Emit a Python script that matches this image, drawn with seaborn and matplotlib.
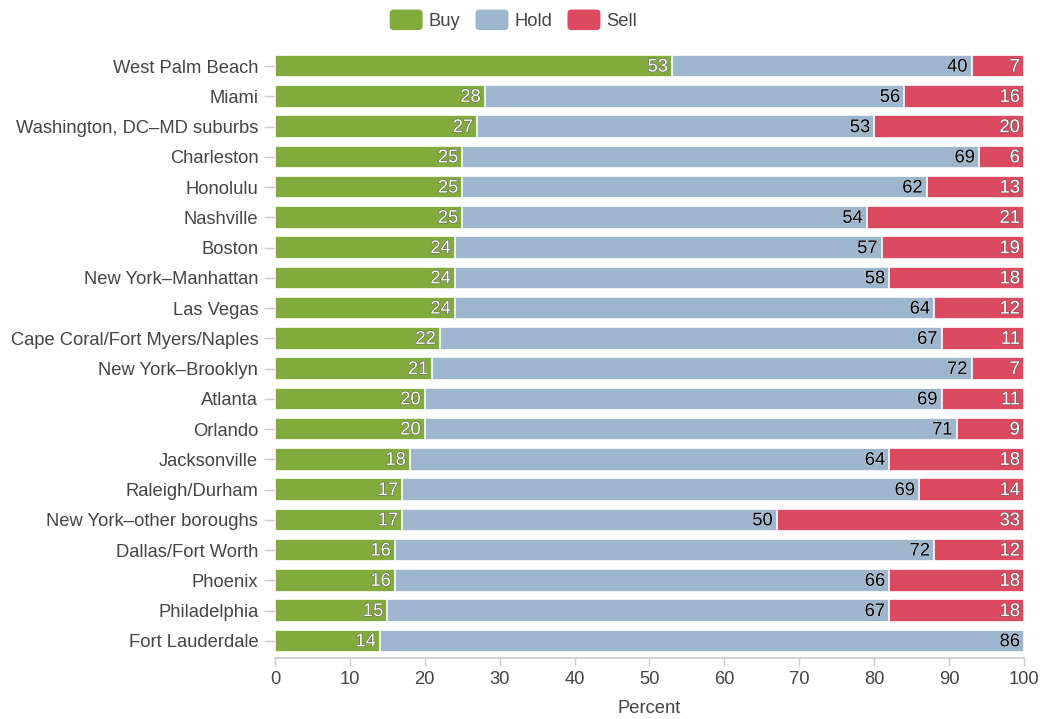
import matplotlib
matplotlib.use("Agg")
import matplotlib.pyplot as plt
import matplotlib.patheffects as pe
from matplotlib.patches import FancyBboxPatch
from matplotlib.legend_handler import HandlerPatch
import seaborn as sns
import pandas as pd
import numpy as np

cities = ["West Palm Beach", "Miami", "Washington, DC\u2013MD suburbs", "Charleston", "Honolulu",
          "Nashville", "Boston", "New York\u2013Manhattan", "Las Vegas", "Cape Coral/Fort Myers/Naples",
          "New York\u2013Brooklyn", "Atlanta", "Orlando", "Jacksonville", "Raleigh/Durham",
          "New York\u2013other boroughs", "Dallas/Fort Worth", "Phoenix", "Philadelphia", "Fort Lauderdale"]
buy = [53, 28, 27, 25, 25, 25, 24, 24, 24, 22, 21, 20, 20, 18, 17, 17, 16, 16, 15, 14]
hold = [40, 56, 53, 69, 62, 54, 57, 58, 64, 67, 72, 69, 71, 64, 69, 50, 72, 66, 67, 86]
sell = [7, 16, 20, 6, 13, 21, 19, 18, 12, 11, 7, 11, 9, 18, 14, 33, 12, 18, 18, 0]
series = ["Buy", "Hold", "Sell"]
colors = {"Buy": "#82aa3d", "Hold": "#9db6ce", "Sell": "#dc4a62"}

sns.set_theme(style="white")
plt.rcParams["font.family"] = ["Liberation Sans", "DejaVu Sans"]

df = pd.DataFrame({"city": cities, "Buy": buy, "Hold": hold, "Sell": sell})
df["cum_buy"] = df["Buy"]
df["cum_hold"] = df["Buy"] + df["Hold"]
df["cum_sell"] = df["Buy"] + df["Hold"] + df["Sell"]

fig = plt.figure(figsize=(10.4, 7.19), dpi=100)
ax = fig.add_axes([0.2644, 0.0876, 0.7202, 0.8414])

for col, name in [("cum_sell", "Sell"), ("cum_hold", "Hold"), ("cum_buy", "Buy")]:
    sns.barplot(data=df, y="city", x=col, color=colors[name], saturation=1, width=0.74,
                edgecolor="white", linewidth=1.2, ax=ax, orient="h")

txtcol = "#444444"
fs = 13.2
for i in range(len(cities)):
    segs = [("Buy", df["cum_buy"][i], buy[i]), ("Hold", df["cum_hold"][i], hold[i]),
            ("Sell", df["cum_sell"][i], sell[i])]
    for name, end, val in segs:
        if val <= 0:
            continue
        if name == "Hold":
            fc, ec = "black", "#d6e0ea"
        else:
            fc, ec = "white", "#555555"
        ax.text(end - 0.55, i + 0.03, f"{val}", ha="right", va="center", fontsize=fs,
                color=fc, path_effects=[pe.withStroke(linewidth=0.7, foreground=ec)], zorder=5)

ax.set_xlim(0, 100)
ax.set_ylim(19.5, -0.5)
ax.set_xticks(range(0, 101, 10))
ax.set_ylabel("")
ax.set_xlabel("Percent", fontsize=fs, color=txtcol, labelpad=9)
ax.tick_params(axis="x", colors="#cccccc", labelcolor=txtcol, labelsize=fs, length=6, width=1, direction="out", bottom=True)
ax.tick_params(axis="y", colors="#cccccc", labelcolor=txtcol, labelsize=fs, length=8, width=1, left=True, pad=4)
for s in ["top", "right", "left"]:
    ax.spines[s].set_visible(False)
ax.spines["bottom"].set_color("#cccccc")
ax.spines["bottom"].set_position(("data", 19.55))


class RoundHandler(HandlerPatch):
    def create_artists(self, legend, orig_handle, xdescent, ydescent, width, height, fontsize, trans):
        p = FancyBboxPatch((-xdescent + 1, -ydescent - 1.5), width - 2, height + 3,
                           boxstyle="round,pad=0,rounding_size=3",
                           facecolor=orig_handle.get_facecolor(), edgecolor="none", transform=trans)
        return [p]


handles = [plt.Rectangle((0, 0), 1, 1, facecolor=colors[s]) for s in series]
fig.legend(handles, series, loc="center", bbox_to_anchor=(0.493, 0.971), ncol=3, frameon=False,
           fontsize=fs, handlelength=1.95, handleheight=1.0, handletextpad=0.25, columnspacing=0.75,
           labelcolor=txtcol, handler_map={plt.Rectangle: RoundHandler()})

fig.savefig("out.png", dpi=100)
